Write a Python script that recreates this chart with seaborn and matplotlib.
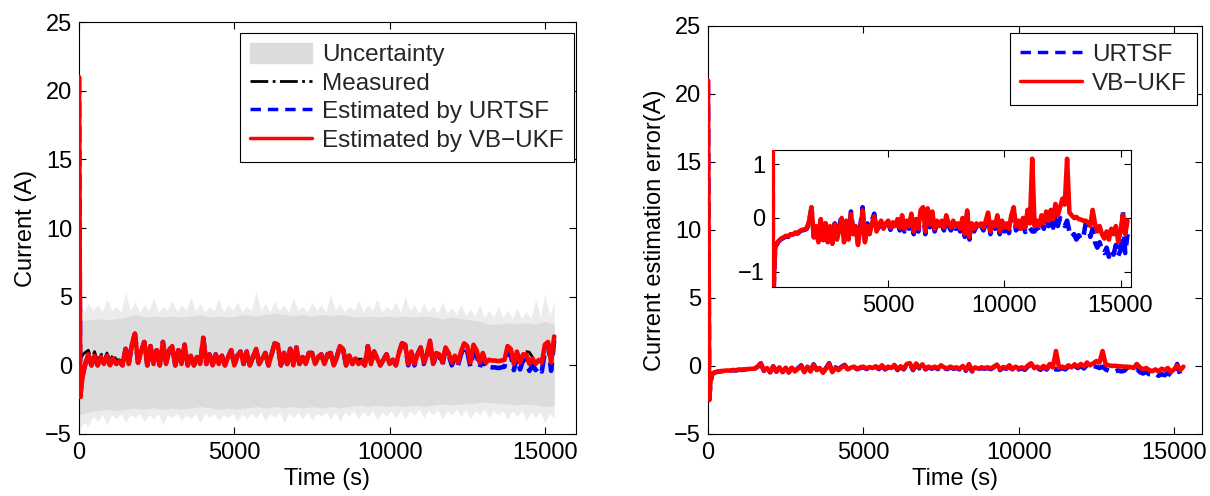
import matplotlib
matplotlib.use("Agg")
import matplotlib.pyplot as plt
import seaborn as sns
from matplotlib.patches import Patch
from matplotlib.lines import Line2D

# ---------------- data ----------------
time_prefix = [0, 40, 80, 130, 180, 240]
time_main = list(range(300, 15301, 100))          # sampling grid, 151 samples
time_s = time_prefix + time_main

vbukf_current = [21.0, -2.3, -1.4, -0.6, -0.1, 0.4] + [
    0.8, 0.0, 0.7, 0.0, 0.6, 0.1, 0.7, 0.0, 0.5, 0.1,
    0.3, 0.0, 1.2, 0.1, 1.5, 2.3, 0.2, 1.0, 1.7, 0.0,
    1.4, 0.1, 1.1, 0.0, 1.7, 0.1, 1.1, 1.4, 0.0, 1.1,
    0.1, 1.5, 0.0, 0.7, 0.0, 0.6, 0.1, 2.0, 0.1, 0.8,
    0.0, 0.8, 0.1, 0.7, 0.0, 0.6, 1.1, 0.0, 0.7, 1.0,
    0.1, 1.0, 0.0, 0.6, 1.2, 0.1, 0.5, 0.9, 0.0, 0.8,
    1.6, 1.5, 0.0, 0.9, 0.1, 1.2, 0.0, 1.3, 0.1, 0.6,
    0.1, 0.9, 0.9, 0.1, 0.6, 0.8, 0.1, 0.8, 0.9, 0.0,
    0.6, 1.4, 1.2, 0.0, 0.7, 0.1, 0.5, 0.1, 0.3, 0.0,
    1.4, 0.1, 1.0, 0.5, 0.0, 0.4, 0.8, 0.1, 0.4, 0.0,
    0.9, 1.6, 1.5, 0.1, 1.0, 0.1, 0.8, 1.3, 0.2, 0.8,
    1.8, 0.1, 0.9, 0.8, 0.2, 1.3, 0.9, 0.2, 0.7, 0.2,
    1.0, 1.6, 1.4, 0.2, 1.5, 1.1, 0.2, 0.9, 0.2, 0.4,
    0.35, 0.35, 0.3, 0.35, 0.4, 1.4, 1.2, 0.1, 1.0, 0.2,
    0.8, 0.8, 0.1, 0.5, 0.1, 0.4, 0.2, 1.5, 1.7, 0.2,
    2.1]

measured_current = [0.4, 0.5, 0.6, 0.8, 0.9, 1.0] + [
    1.1, 0.4, 1.0, 0.3, 0.9, 0.3, 0.9, 0.3, 0.8, 0.4,
    0.4, 0.3, 1.2, 0.1, 1.5, 2.3, 0.2, 1.0, 1.7, 0.0,
    1.4, 0.1, 1.1, 0.0, 1.7, 0.1, 1.1, 1.4, 0.0, 1.1,
    0.1, 1.5, 0.0, 0.7, 0.0, 0.6, 0.1, 2.0, 0.1, 0.8,
    0.0, 0.8, 0.1, 0.7, 0.0, 0.6, 1.1, 0.0, 0.7, 1.0,
    0.1, 1.0, 0.0, 0.6, 1.2, 0.1, 0.5, 0.9, 0.0, 0.8,
    1.6, 1.5, 0.0, 0.9, 0.1, 1.2, 0.0, 1.3, 0.1, 0.6,
    0.1, 0.9, 0.9, 0.1, 0.6, 0.8, 0.1, 0.8, 0.9, 0.0,
    0.6, 1.4, 1.2, 0.0, 0.7, 0.1, 0.45, 0.45, 0.45, 0.3,
    1.4, 0.1, 1.05, 0.5, 0.0, 0.5, 0.85, 0.1, 0.4, 0.0,
    0.9, 1.6, 1.5, 0.1, 1.0, 0.1, 0.8, 1.3, 0.2, 0.8,
    1.8, 0.1, 0.9, 0.8, 0.2, 1.3, 0.9, 0.2, 0.7, 0.2,
    1.0, 1.6, 1.4, 0.2, 1.5, 1.1, 0.2, 0.9, 0.2, 0.4,
    0.35, 0.35, 0.3, 0.35, 0.4, 1.4, 1.2, 0.1, 1.0, 0.2,
    0.9, 1.0, 0.95, 0.6, 0.1, 0.4, 0.2, 1.5, 1.7, 0.2,
    2.2]

urtsf_current = [21.0, -2.3, -1.4, -0.6, -0.1, 0.4] + [
    0.8, 0.0, 0.7, 0.0, 0.6, 0.1, 0.7, 0.0, 0.5, 0.1,
    0.3, 0.0, 1.2, 0.1, 1.5, 2.3, 0.2, 1.0, 1.7, 0.0,
    1.4, 0.1, 1.1, 0.0, 1.7, 0.1, 1.1, 1.4, 0.0, 1.1,
    0.1, 1.5, 0.0, 0.7, 0.0, 0.6, 0.1, 2.0, 0.1, 0.8,
    0.0, 0.8, 0.1, 0.7, 0.0, 0.6, 1.1, 0.0, 0.7, 1.0,
    0.1, 1.0, 0.0, 0.6, 1.2, 0.1, 0.5, 0.9, 0.0, 0.8,
    1.6, 1.5, 0.0, 0.9, 0.1, 1.2, 0.0, 1.3, 0.1, 0.6,
    0.1, 0.9, 0.9, 0.1, 0.6, 0.8, 0.1, 0.8, 0.9, 0.0,
    0.6, 1.4, 1.2, 0.0, 0.7, 0.1, 0.5, 0.1, 0.3, 0.0,
    1.4, 0.1, 1.0, 0.5, 0.0, 0.4, 0.8, 0.1, 0.4, 0.0,
    0.9, 1.6, 1.5, 0.0, 1.0, 0.0, 0.8, 1.3, 0.1, 0.8,
    1.7, 0.0, 0.8, 0.7, 0.0, 1.2, 0.8, 0.0, 0.5, 0.0,
    0.8, 1.4, 1.0, -0.1, 0.9, 0.8, -0.15, 0.5, -0.2, -0.1,
    -0.15, -0.15, -0.2, -0.15, -0.1, 1.0, 0.8, -0.35, 0.6, -0.3,
    0.4, 0.3, -0.4, 0.0, -0.35, -0.1, -0.45, 1.0, 1.6, -0.4,
    1.8]

vbukf_error = [21.0, -2.5, -1.2, -0.6, -0.5, -0.45] + [
    -0.42, -0.38, -0.36, -0.33, -0.34, -0.30, -0.31, -0.27, -0.28, -0.24,
    -0.22, -0.21, -0.19, -0.05, 0.20, -0.35, -0.15, -0.45, -0.02, -0.40,
    -0.10, -0.45, -0.15, -0.48, -0.12, -0.40, -0.20, 0.00, -0.45, -0.05,
    -0.40, 0.08, -0.30, -0.15, -0.50, -0.20, 0.14, -0.45, -0.15, -0.30,
    -0.10, 0.03, -0.25, -0.12, -0.05, -0.20, -0.10, -0.05, -0.18, -0.08,
    -0.15, -0.02, -0.18, 0.05, -0.20, -0.05, -0.15, 0.08, -0.25, -0.02,
    -0.20, 0.15, 0.20, -0.25, 0.18, -0.12, 0.12, -0.20, -0.05, -0.15,
    -0.05, -0.18, 0.05, -0.10, -0.18, -0.05, -0.15, -0.10, -0.20, 0.00,
    -0.30, 0.14, -0.35, -0.10, -0.20, -0.10, -0.15, -0.10, -0.18, -0.05,
    0.10, -0.25, -0.08, -0.15, 0.05, -0.25, -0.05, -0.18, -0.10, -0.20,
    0.05, 0.20, -0.15, -0.05, -0.20, 0.00, -0.18, 0.15, -0.10, 1.10,
    -0.15, -0.05, -0.15, 0.05, -0.10, 0.12, -0.05, 0.15, -0.02, 0.26,
    0.05, 0.20, 0.36, 0.25, 1.10, 0.10, 0.05, 0.00, 0.02, -0.02,
    -0.03, -0.05, -0.05, -0.08, -0.15, 0.15, -0.10, -0.25, -0.15, -0.30,
    -0.38, -0.25, -0.40, -0.20, -0.30, -0.15, -0.44, -0.25, 0.05, -0.30,
    -0.05]

urtsf_error = [21.0, -2.5, -1.25, -0.62, -0.52, -0.46] + [
    -0.43, -0.39, -0.37, -0.34, -0.35, -0.31, -0.32, -0.28, -0.29, -0.25,
    -0.23, -0.22, -0.20, -0.06, 0.19, -0.36, -0.16, -0.46, -0.03, -0.41,
    -0.10, -0.44, -0.14, -0.46, -0.10, -0.38, -0.15, 0.05, -0.42, 0.00,
    -0.35, 0.12, -0.26, -0.10, -0.46, -0.15, 0.20, -0.40, -0.10, -0.25,
    -0.05, 0.08, -0.25, -0.14, -0.08, -0.24, -0.14, -0.09, -0.22, -0.12,
    -0.20, -0.07, -0.23, 0.00, -0.25, -0.10, -0.20, 0.03, -0.30, -0.07,
    -0.25, 0.10, 0.15, -0.30, 0.13, -0.17, 0.07, -0.25, -0.10, -0.20,
    -0.10, -0.23, 0.00, -0.15, -0.23, -0.10, -0.20, -0.15, -0.25, -0.05,
    -0.35, 0.09, -0.40, -0.15, -0.25, -0.15, -0.20, -0.15, -0.23, -0.10,
    0.05, -0.30, -0.13, -0.20, 0.00, -0.30, -0.10, -0.25, -0.17, -0.28,
    -0.03, 0.12, -0.23, -0.13, -0.28, -0.08, -0.26, 0.07, -0.18, -0.25,
    -0.25, -0.15, -0.25, -0.05, -0.20, 0.02, -0.15, 0.00, -0.18, 0.08,
    -0.15, 0.00, -0.05, -0.15, -0.05, -0.25, -0.35, -0.30, -0.40, -0.32,
    -0.40, -0.35, -0.10, -0.10, -0.35, -0.20, -0.45, -0.55, -0.45, -0.60,
    -0.65, -0.55, -0.72, -0.60, -0.68, -0.50, -0.70, -0.60, 0.15, -0.65,
    -0.30]

# uncertainty band (dark inner part, light spiky outer part)
band_inner_t = list(range(0, 15301, 300))
band_inner_upper = [
    3.2, 3.3, 3.4, 3.3, 3.4, 3.5, 3.7, 3.5, 3.6, 3.5,
    3.6, 3.5, 3.6, 3.7, 3.5, 3.6, 3.5, 3.6, 3.7, 3.6,
    3.7, 3.8, 3.7, 3.6, 3.7, 3.6, 3.7, 3.6, 3.7, 3.6,
    3.5, 3.6, 3.5, 3.6, 3.5, 3.6, 3.5, 3.6, 3.5, 3.4,
    3.5, 3.4, 3.3, 3.2, 3.0, 3.0, 3.1, 3.0, 3.1, 3.0,
    3.2, 3.0]
band_inner_lower = [
    -3.6, -3.4, -3.3, -3.2, -3.3, -3.2, -3.1, -3.2, -3.1, -3.2,
    -3.1, -3.2, -3.1, -3.0, -3.1, -3.2, -3.1, -3.2, -3.1, -3.0,
    -3.1, -3.0, -3.1, -3.0, -3.1, -3.0, -3.1, -3.0, -3.1, -3.0,
    -2.9, -3.0, -2.9, -3.0, -2.9, -3.0, -2.9, -3.0, -2.9, -2.8,
    -2.9, -2.8, -2.8, -2.7, -2.7, -2.8, -2.8, -2.9, -2.8, -2.9,
    -3.0, -2.9]
band_outer_t = list(range(0, 15301, 150))
band_outer_upper = [
    4.6, 3.9, 4.5, 4.0, 4.4, 3.9, 4.8, 4.0, 4.3, 3.9,
    5.3, 4.0, 4.6, 3.9, 4.4, 4.0, 4.9, 3.9, 4.3, 4.0,
    4.7, 3.9, 4.4, 4.0, 5.0, 4.0, 4.5, 3.9, 4.3, 4.0,
    4.8, 3.9, 4.4, 4.0, 4.6, 3.9, 4.3, 4.0, 5.4, 4.0,
    4.5, 3.9, 4.7, 4.0, 4.4, 3.9, 4.9, 4.0, 4.3, 3.9,
    4.6, 4.0, 4.4, 3.9, 5.1, 4.0, 4.5, 3.9, 4.3, 4.0,
    4.7, 3.9, 4.4, 4.0, 4.8, 3.9, 4.3, 4.0, 4.6, 3.9,
    5.0, 4.0, 4.4, 3.8, 4.5, 3.9, 4.3, 3.8, 4.6, 3.8,
    4.2, 3.7, 4.5, 3.6, 4.1, 3.6, 4.4, 3.5, 4.0, 3.5,
    4.3, 3.5, 4.0, 3.4, 4.2, 3.4, 3.9, 3.4, 4.8, 3.5,
    5.2, 3.6, 4.6]
band_outer_lower = [
    -4.7, -4.2, -4.4, -3.7, -4.1, -3.6, -4.3, -3.6, -3.9, -3.5,
    -4.2, -3.6, -3.8, -3.5, -4.1, -3.6, -3.9, -3.5, -4.3, -3.6,
    -3.8, -3.5, -4.0, -3.6, -3.9, -3.5, -4.2, -3.5, -3.8, -3.5,
    -4.0, -3.6, -3.8, -3.5, -4.1, -3.5, -3.9, -3.5, -3.8, -3.4,
    -4.0, -3.5, -3.8, -3.4, -4.2, -3.5, -3.8, -3.4, -3.9, -3.4,
    -4.0, -3.5, -3.7, -3.4, -3.9, -3.4, -4.1, -3.4, -3.7, -3.3,
    -3.9, -3.4, -3.7, -3.3, -4.0, -3.4, -3.7, -3.3, -3.8, -3.3,
    -3.9, -3.3, -3.6, -3.2, -3.8, -3.3, -3.6, -3.2, -3.9, -3.3,
    -3.6, -3.2, -3.7, -3.2, -3.9, -3.3, -3.6, -3.2, -3.8, -3.3,
    -3.6, -3.3, -3.9, -3.3, -3.7, -3.3, -4.0, -3.4, -3.8, -3.4,
    -4.2, -3.5, -3.9]

x_ticks = [0, 5000, 10000, 15000]
y_ticks = [-5, 0, 5, 10, 15, 20, 25]
inset_x_ticks = [5000, 10000, 15000]
inset_y_ticks = [-1, 0, 1]

left_labels = ["Uncertainty", "Measured", "Estimated by URTSF", "Estimated by VB\u2212UKF"]
right_labels = ["URTSF", "VB\u2212UKF"]

# ---------------- styling ----------------
sns.set_theme(style="white")
plt.rcParams["font.family"] = ["Liberation Sans", "DejaVu Sans"]
plt.rcParams["axes.unicode_minus"] = True
FS = 17
FS_LEG = 17.5
RED = "#ff0000"
BLUE = "#0000ff"
DARK_GRAY = "#dcdcdc"
LIGHT_GRAY = "#ececec"
LW = 3.3

fig = plt.figure(figsize=(12.1, 4.96), dpi=100)
ax1 = fig.add_axes([0.0653, 0.125, 0.4107, 0.8306])
ax2 = fig.add_axes([0.5851, 0.125, 0.4083, 0.8226])


def style_axes(ax, xpad=6, ypad=5):
    ax.set_facecolor("white")
    for s in ax.spines.values():
        s.set_visible(True)
        s.set_color("black")
        s.set_linewidth(0.8)
    ax.tick_params(axis="both", which="both", direction="in", top=True, right=True,
                   bottom=True, left=True, length=5, width=0.8, colors="black",
                   labelsize=FS)
    ax.tick_params(axis="x", pad=xpad)
    ax.tick_params(axis="y", pad=ypad)
    ax.grid(False)


legend_kw = dict(loc="upper right", fontsize=FS_LEG, frameon=True, fancybox=False,
                 edgecolor="black", framealpha=1, handlelength=2.55, handleheight=0.85,
                 handletextpad=0.4, labelspacing=0.22, borderpad=0.42, borderaxespad=0)

# ---------- left panel ----------
ax1.fill_between(band_outer_t, band_outer_lower, band_outer_upper,
                 color=LIGHT_GRAY, linewidth=0, zorder=1)
ax1.fill_between(band_inner_t, band_inner_lower, band_inner_upper,
                 color=DARK_GRAY, linewidth=0, zorder=1.1)
sns.lineplot(x=time_s, y=measured_current, ax=ax1, color="black", linewidth=2.0,
             linestyle="-.", sort=False, estimator=None, legend=False, zorder=2)
sns.lineplot(x=time_s, y=urtsf_current, ax=ax1, color=BLUE, linewidth=LW,
             linestyle="--", sort=False, estimator=None, legend=False, zorder=3)
sns.lineplot(x=time_s, y=vbukf_current, ax=ax1, color=RED, linewidth=LW,
             sort=False, estimator=None, legend=False, zorder=4)
ax1.set_xlim(0, 16000)
ax1.set_ylim(-5, 25)
ax1.set_xticks(x_ticks)
ax1.set_yticks(y_ticks)
style_axes(ax1)
ax1.set_xlabel("Time (s)", fontsize=FS, color="black", labelpad=3)
ax1.set_ylabel("Current (A)", fontsize=FS, color="black", labelpad=6)

handles1 = [
    Patch(facecolor=DARK_GRAY, edgecolor=DARK_GRAY),
    Line2D([], [], color="black", linewidth=2.0, linestyle="-."),
    Line2D([], [], color=BLUE, linewidth=2.5, linestyle=(0, (3, 2))),
    Line2D([], [], color=RED, linewidth=2.5),
]
leg1 = ax1.legend(handles1, left_labels, bbox_to_anchor=(0.996, 0.973), **legend_kw)
leg1.get_frame().set_linewidth(0.8)

# ---------- right panel ----------
sns.lineplot(x=time_s, y=urtsf_error, ax=ax2, color=BLUE, linewidth=LW,
             linestyle="--", sort=False, estimator=None, legend=False, zorder=3)
sns.lineplot(x=time_s, y=vbukf_error, ax=ax2, color=RED, linewidth=LW,
             sort=False, estimator=None, legend=False, zorder=4)
ax2.set_xlim(0, 15900)
ax2.set_ylim(-5, 25)
ax2.set_xticks(x_ticks)
ax2.set_yticks(y_ticks)
style_axes(ax2)
ax2.set_xlabel("Time (s)", fontsize=FS, color="black", labelpad=3)
ax2.set_ylabel("Current estimation error(A)", fontsize=FS, color="black", labelpad=6)

handles2 = [
    Line2D([], [], color=BLUE, linewidth=2.5, linestyle=(0, (3, 2))),
    Line2D([], [], color=RED, linewidth=2.5),
]
leg2 = ax2.legend(handles2, right_labels, bbox_to_anchor=(0.990, 0.983), **legend_kw)
leg2.get_frame().set_linewidth(0.8)

# ---------- inset ----------
ax3 = fig.add_axes([0.638, 0.4214, 0.2967, 0.276])
sns.lineplot(x=time_s, y=urtsf_error, ax=ax3, color=BLUE, linewidth=LW,
             linestyle="--", sort=False, estimator=None, legend=False, zorder=3)
sns.lineplot(x=time_s, y=vbukf_error, ax=ax3, color=RED, linewidth=LW,
             sort=False, estimator=None, legend=False, zorder=4)
ax3.set_xlim(0, 15450)
ax3.set_ylim(-1.28, 1.26)
ax3.set_xticks(inset_x_ticks)
ax3.set_yticks(inset_y_ticks)
style_axes(ax3)
ax3.set_xlabel("")
ax3.set_ylabel("")

fig.savefig("out.png", dpi=100)
